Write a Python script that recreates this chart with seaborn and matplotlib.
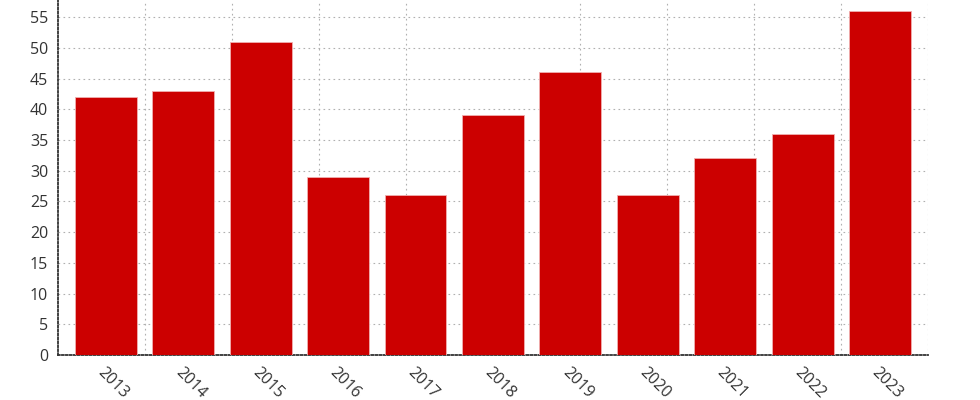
import numpy as np
import pandas as pd
import matplotlib
matplotlib.use('Agg')
import matplotlib.pyplot as plt
import seaborn as sns

# Dữ liệu
years = ['2013', '2014', '2015', '2016', '2017', '2018', '2019', '2020', '2021', '2022', '2023']
values = [42, 43, 51, 29, 26, 39, 46, 26, 32, 36, 56]

df = pd.DataFrame({'year': years, 'value': values})

sns.set_style('white')
plt.rcParams['font.family'] = ['Open Sans', 'DejaVu Sans']

fig = plt.figure(figsize=(9.8, 4.0), dpi=100)
ax = fig.add_axes([0.059, 0.1125, 0.888, 0.8875])

sns.barplot(data=df, x='year', y='value', color='#cc0000', saturation=1,
            width=0.8, edgecolor='#f0b0b0', linewidth=0.6, ax=ax, zorder=3)

ax.set_xlim(-0.62, 10.62)
ax.set_ylim(0, 57.8)
ax.set_yticks(np.arange(0, 56, 5))

# lưới dọc chia trục thành 10 phần bằng nhau
x0, x1 = ax.get_xlim()
ax.set_xticks([x0 + k * (x1 - x0) / 10 for k in range(1, 11)], minor=True)
ax.grid(True, which='minor', axis='x', linestyle=(0, (1.5, 3)), color='#b0b0b0', linewidth=0.8, zorder=0)
ax.grid(True, which='major', axis='y', linestyle=(0, (1.5, 3)), color='#b0b0b0', linewidth=0.8, zorder=0)
ax.tick_params(axis='x', which='minor', length=0)

ax.set_axisbelow(True)
for s in ['top', 'right']:
    ax.spines[s].set_visible(False)
for s in ['left', 'bottom']:
    ax.spines[s].set_linestyle((0, (1, 1.2)))
    ax.spines[s].set_color('#333333')
    ax.spines[s].set_linewidth(1.3)

ax.tick_params(axis='both', which='major', labelsize=11.5, colors='#333333',
               length=3, width=0.8, direction='out', pad=4)
plt.setp(ax.get_xticklabels(), rotation=-45, ha='left', rotation_mode='anchor')
ax.set_xlabel('')
ax.set_ylabel('')

fig.savefig('out.png', dpi=100)
